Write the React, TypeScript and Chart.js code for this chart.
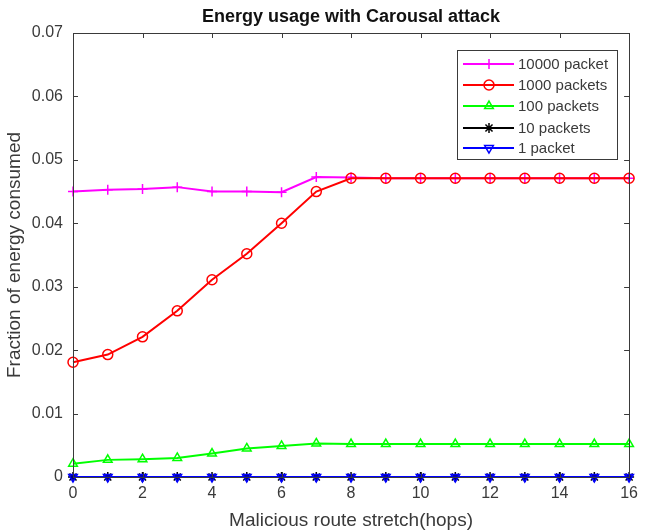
import React, { useEffect, useRef } from 'react';
import { Chart, registerables } from 'chart.js';
import { drawPoint } from 'chart.js/helpers';

Chart.register(...registerables);

const hops = [0, 1, 2, 3, 4, 5, 6, 7, 8, 9, 10, 11, 12, 13, 14, 15, 16];
const packets10000 = [0.045, 0.0453, 0.0454, 0.0457, 0.045, 0.045, 0.0449, 0.0473, 0.0472, 0.0471, 0.0471, 0.0471, 0.0471, 0.0471, 0.0471, 0.0471, 0.0471];
const packets1000 = [0.0181, 0.0193, 0.0221, 0.0262, 0.0311, 0.0352, 0.04, 0.045, 0.0471, 0.0471, 0.0471, 0.0471, 0.0471, 0.0471, 0.0471, 0.0471, 0.0471];
const packets100 = [0.0021, 0.0027, 0.0028, 0.003, 0.0037, 0.0045, 0.0049, 0.0053, 0.0052, 0.0052, 0.0052, 0.0052, 0.0052, 0.0052, 0.0052, 0.0052, 0.0052];
const packets10 = [0, 0, 0, 0, 0, 0, 0, 0, 0, 0, 0, 0, 0, 0, 0, 0, 0];
const packets1 = [0, 0, 0, 0, 0, 0, 0, 0, 0, 0, 0, 0, 0, 0, 0, 0, 0];
const seriesLabels = ['10000 packet', '1000 packets', '100 packets', '10 packets', '1 packet'];
const seriesColors = ['#ff00ff', '#ff0000', '#00ff00', '#000000', '#0000ff'];
const seriesFills = ['rgba(0,0,0,0)', 'rgba(0,0,0,0)', 'rgba(0,0,0,0)', 'rgba(0,0,0,0)', 'rgba(0,0,170,0.75)'];
const seriesMarkers = ['cross', 'circle', 'triangle', 'star', 'triangle'];
const seriesRotations = [0, 0, 0, 0, 180];
const yTicks = [0, 0.01, 0.02, 0.03, 0.04, 0.05, 0.06, 0.07];
const xTicks = [0, 2, 4, 6, 8, 10, 12, 14, 16];
const titleText = 'Energy usage with Carousal attack';
const xTitle = 'Malicious route stretch(hops)';
const yTitle = 'Fraction of energy consumed';

const FONT = '"Liberation Sans", Arial, sans-serif';
const AXIS_COLOR = '#3a3a3a';
const TEXT_COLOR = '#3a3a3a';

const seriesValues = [packets10000, packets1000, packets100, packets10, packets1];

const framePlugin = {
  id: 'matlabFrame',
  afterDraw(chart: any) {
    const ctx = chart.ctx as CanvasRenderingContext2D;
    const { left, right, top, bottom } = chart.chartArea;
    const xs = chart.scales.x;
    const ys = chart.scales.y;
    ctx.save();
    ctx.strokeStyle = AXIS_COLOR;
    ctx.lineWidth = 1;
    ctx.strokeRect(Math.round(left) + 0.5, Math.round(top) + 0.5, Math.round(right - left), Math.round(bottom - top));
    const tl = 5;
    ctx.beginPath();
    xTicks.forEach((v) => {
      const px = Math.round(xs.getPixelForValue(v)) + 0.5;
      ctx.moveTo(px, bottom);
      ctx.lineTo(px, bottom - tl);
      ctx.moveTo(px, top);
      ctx.lineTo(px, top + tl);
    });
    yTicks.forEach((v) => {
      const py = Math.round(ys.getPixelForValue(v)) + 0.5;
      ctx.moveTo(left, py);
      ctx.lineTo(left + tl, py);
      ctx.moveTo(right, py);
      ctx.lineTo(right - tl, py);
    });
    ctx.stroke();

    ctx.fillStyle = '#111';
    ctx.textAlign = 'center';
    ctx.textBaseline = 'middle';
    ctx.font = `bold 18px ${FONT}`;
    ctx.fillText(titleText, (left + right) / 2, 17);
    ctx.fillStyle = TEXT_COLOR;
    ctx.font = `19px ${FONT}`;
    ctx.fillText(xTitle, (left + right) / 2, 521);
    ctx.save();
    ctx.translate(15, (top + bottom) / 2);
    ctx.rotate(-Math.PI / 2);
    ctx.fillText(yTitle, 0, 0);
    ctx.restore();

    const bx = 457, by = 50, bw = 160, bh = 109;
    ctx.fillStyle = '#fff';
    ctx.fillRect(bx, by, bw, bh);
    ctx.strokeStyle = AXIS_COLOR;
    ctx.lineWidth = 1;
    ctx.strokeRect(bx + 0.5, by + 0.5, bw, bh);
    const rows = [64, 85, 106, 128, 148];
    seriesLabels.forEach((lab, i) => {
      const y = rows[i];
      ctx.strokeStyle = seriesColors[i];
      ctx.lineWidth = 2;
      ctx.beginPath();
      ctx.moveTo(463, y);
      ctx.lineTo(514, y);
      ctx.stroke();
      ctx.fillStyle = 'rgba(0,0,0,0)';
      ctx.lineWidth = 1.5;
      drawPoint(ctx, { pointStyle: seriesMarkers[i], rotation: seriesRotations[i], radius: 5, borderWidth: 1.5 } as any, 489, y);
      ctx.fillStyle = TEXT_COLOR;
      ctx.textAlign = 'left';
      ctx.textBaseline = 'middle';
      ctx.font = `15px ${FONT}`;
      ctx.fillText(lab, 518, y + 1);
    });
    ctx.restore();
  },
};

export default function App() {
  const canvasRef = useRef<HTMLCanvasElement | null>(null);
  useEffect(() => {
    if (!canvasRef.current) return;
    const datasets = seriesLabels.map((label, i) => ({
      label,
      data: hops.map((h, j) => ({ x: h, y: seriesValues[i][j] })),
      borderColor: seriesColors[i],
      backgroundColor: 'rgba(0,0,0,0)',
      pointBorderColor: seriesColors[i],
      pointBackgroundColor: seriesFills[i],
      pointStyle: seriesMarkers[i],
      pointRotation: seriesRotations[i],
      pointRadius: 5,
      pointBorderWidth: 1.5,
      borderWidth: 2,
      tension: 0,
      clip: false as any,
      order: seriesLabels.length - i,
    }));
    const chart = new Chart(canvasRef.current, {
      type: 'line',
      data: { datasets },
      options: {
        animation: false,
        responsive: true,
        maintainAspectRatio: false,
        layout: { padding: { top: 33, right: 12, left: 0, bottom: 0 } },
        plugins: { legend: { display: false }, tooltip: { enabled: false }, title: { display: false } },
        scales: {
          x: {
            type: 'linear',
            min: 0,
            max: 16,
            afterBuildTicks: (s: any) => { s.ticks = xTicks.map((v) => ({ value: v })); },
            afterFit: (s: any) => { s.height = 55; },
            grid: { display: false, drawTicks: false },
            border: { display: false },
            ticks: { padding: 7, color: TEXT_COLOR, font: { size: 16, family: FONT }, maxRotation: 0 },
          },
          y: {
            type: 'linear',
            min: 0,
            max: 0.07,
            afterBuildTicks: (s: any) => { s.ticks = yTicks.map((v) => ({ value: v })); },
            afterFit: (s: any) => { s.width = 73; },
            grid: { display: false, drawTicks: false },
            border: { display: false },
            ticks: {
              padding: 10,
              color: TEXT_COLOR,
              font: { size: 16, family: FONT },
              callback: (v: any) => (Number(v) === 0 ? '0' : Number(v).toFixed(2)),
            },
          },
        },
      },
      plugins: [framePlugin],
    });
    return () => chart.destroy();
  }, []);
  return (
    <div style={{ position: 'fixed', left: 0, top: 0, width: 645, height: 532, background: '#fff' }}>
      <canvas ref={canvasRef} />
    </div>
  );
}
